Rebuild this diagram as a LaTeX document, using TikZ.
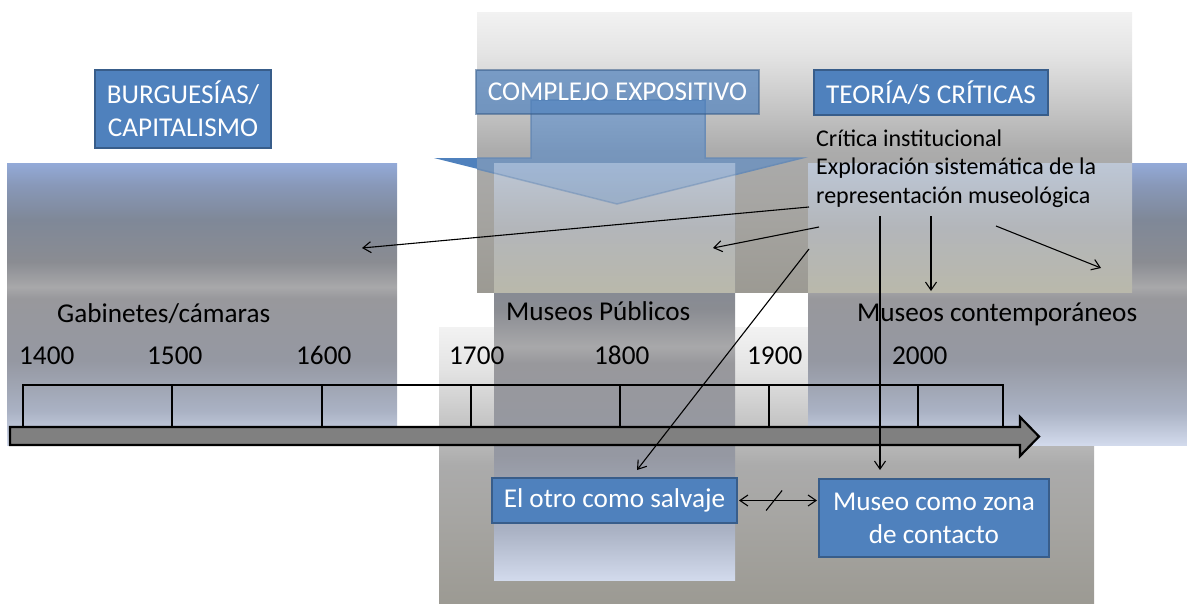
\documentclass[tikz,border=0pt]{standalone}
\usepackage{fontspec}
\setmainfont{Carlito}
\usetikzlibrary{arrows.meta,calc}

\definecolor{mA}{HTML}{93AAD8}
\definecolor{mB}{HTML}{8898B8}
\definecolor{mC}{HTML}{7F8898}
\definecolor{mD}{HTML}{8A8C92}
\definecolor{mE}{HTML}{A8A8AA}
\definecolor{mF}{HTML}{98989C}
\definecolor{mG}{HTML}{9598A2}
\definecolor{mH}{HTML}{AAB2C4}
\definecolor{mI}{HTML}{D2DAEC}
\pgfdeclareverticalshading{metal}{100bp}{color(0bp)=(mI); color(25bp)=(mI); color(31bp)=(mH); color(40bp)=(mG); color(51bp)=(mF); color(53bp)=(mE); color(57.5bp)=(mD); color(65bp)=(mC); color(71bp)=(mB); color(75bp)=(mA); color(100bp)=(mA)}

\definecolor{sA}{HTML}{F2F2F2}
\definecolor{sB}{HTML}{E4E4E4}
\definecolor{sC}{HTML}{C4C4C4}
\definecolor{sD}{HTML}{ABABAB}
\definecolor{sE}{HTML}{A6A5A2}
\definecolor{sF}{HTML}{9C9A93}
\pgfdeclareverticalshading{silver}{100bp}{color(0bp)=(sF); color(25bp)=(sF); color(40bp)=(sE); color(50bp)=(sD); color(57.5bp)=(sC); color(67.5bp)=(sB); color(75bp)=(sA); color(100bp)=(sA)}

\definecolor{oA}{HTML}{BDC7D6}
\definecolor{oB}{HTML}{B3B6BA}
\definecolor{oC}{HTML}{B9B8AB}
\pgfdeclareverticalshading{overlay}{100bp}{color(0bp)=(oC); color(25bp)=(oC); color(50bp)=(oB); color(75bp)=(oA); color(100bp)=(oA)}

\definecolor{boxblue}{HTML}{4F81BD}
\definecolor{boxedge}{HTML}{385D8A}
\definecolor{arrowblue}{HTML}{3D7FD0}
\definecolor{arrowedge}{HTML}{6A8CB6}
\definecolor{bargray}{HTML}{808080}

\tikzset{
  bluebox/.style={draw=boxedge, fill=boxblue, line width=2pt, text=white, align=center, inner sep=0pt, font=\fontsize{27.2}{33}\selectfont},
  label/.style={anchor=base west, inner sep=0pt, font=\fontsize{27.2}{29}\selectfont},
  small/.style={anchor=base west, inner sep=0pt, font=\fontsize{24}{29}\selectfont},
  conn/.style={line width=1.1pt, -{Straight Barb[length=8pt,width=11pt]}},
  tl/.style={line width=2.2pt}
}

\begin{document}
\begin{tikzpicture}[x=1pt,y=-1pt]
\useasboundingbox (0,0) rectangle (1187,603);

% blue arrow under the silver panel
\path[fill=boxblue] (531,100) -- (705,100) -- (705,158) -- (802,158) -- (617,204) -- (434,158) -- (531,158) -- cycle;
% top silver panel
\shade[shading=silver] (477,12) rectangle (1132,292);
\begin{scope}
  \clip (477,12) rectangle (1132,292);
  \path[fill=arrowblue, fill opacity=0.47, draw=arrowedge, line width=1.5pt] (531,100) -- (705,100) -- (705,158) -- (802,158) -- (617,204) -- (434,158) -- (531,158) -- cycle;
\end{scope}

% background panels
\shade[shading=metal] (7,163) rectangle (397,445);
\shade[shading=silver] (439,327) rectangle (1094,603);
\shade[shading=metal] (494,163) rectangle (735,580);
\shade[shading=metal] (808,163) rectangle (1187,445);
\shade[shading=overlay] (494,163) rectangle (735,292);
\shade[shading=overlay] (808,163) rectangle (1132,292);
\begin{scope}
  \clip (494,163) rectangle (735,292);
  \path[fill=arrowblue, fill opacity=0.22, draw=arrowedge, draw opacity=0.5, line width=1.5pt] (531,100) -- (705,100) -- (705,158) -- (802,158) -- (617,204) -- (434,158) -- (531,158) -- cycle;
\end{scope}

% boxes
\node[bluebox, minimum width=176pt, minimum height=78pt] (burg) at (183,109) {BURGUESÍAS/\\CAPITALISMO};
\node[bluebox, fill opacity=0.7, draw opacity=0.55, text opacity=1, minimum width=283pt, minimum height=44pt] (compl) at (617.5,92) {COMPLEJO EXPOSITIVO};
\node[bluebox, minimum width=234pt, minimum height=45pt] (teor) at (931,92.5) {TEORÍA/S CRÍTICAS};
\node[bluebox, minimum width=245pt, minimum height=45pt] (otro) at (614.5,500.5) {El otro como salvaje};
\node[bluebox, minimum width=230pt, minimum height=78pt] (museo) at (934,518) {Museo como zona\\de contacto};

% texts
\node[small] (crit1) at (816,146) {Crítica institucional};
\node[small] (crit2) at (816,174.5) {Exploración sistemática de la};
\node[small] (crit3) at (816,203) {representación museológica};
\node[label] (gab) at (57,322) {Gabinetes/cámaras};
\node[label] (mpub) at (506,320) {Museos Públicos};
\node[label] (mcon) at (857,321) {Museos contemporáneos};
\node[label] (y14) at (19,364) {1400};
\node[label] (y15) at (147,364) {1500};
\node[label] (y16) at (296,364) {1600};
\node[label] (y17) at (449,364) {1700};
\node[label] (y18) at (594,364) {1800};
\node[label] (y19) at (747,364) {1900};
\node[label] (y20) at (892,364) {2000};

% timeline
\draw[tl] (23,427) -- (23,385) -- (1003,385) -- (1003,427);
\foreach \x in {172,322,471,620,769,918} \draw[tl] (\x,385) -- (\x,427);
\draw[tl, fill=bargray] (10,427) -- (1020,427) -- (1020,417) -- (1039,436.5) -- (1020,456) -- (1020,445) -- (10,445) -- cycle;

% connectors
\coordinate (s1) at (809,207); \coordinate (e1) at (362,248);
\coordinate (s2) at (819,227); \coordinate (e2) at (713,248);
\coordinate (s3) at (809,249); \coordinate (e3) at (637,470);
\coordinate (s4) at (880,216); \coordinate (e4) at (880,470);
\coordinate (s5) at (931,216); \coordinate (e5) at (931,291);
\coordinate (s6) at (996,226); \coordinate (e6) at (1101,268);
\draw[conn] (s1) -- (e1);
\draw[conn] (s2) -- (e2);
\draw[conn] (s3) -- (e3);
\draw[conn] (s4) -- (e4);
\draw[conn] (s5) -- (e5);
\draw[conn] (s6) -- (e6);

\coordinate (dl) at ([xshift=1pt]otro.east);
\coordinate (dr) at ([xshift=-1pt]otro.east -| museo.west);
\draw[line width=1.1pt, {Straight Barb[length=8pt,width=11pt]}-{Straight Barb[length=8pt,width=11pt]}] (dl) -- (dr);
\coordinate (mid) at ($(dl)!0.45!(dr)$);
\draw[line width=1.1pt] ([shift={(-8,10)}]mid) -- ([shift={(8,-10)}]mid);
\end{tikzpicture}
\end{document}
